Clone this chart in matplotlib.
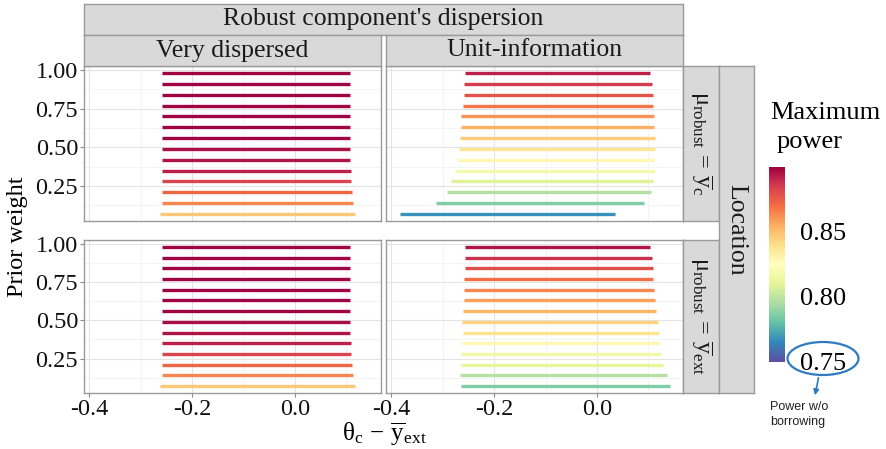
import matplotlib
matplotlib.use('Agg')
import matplotlib.pyplot as plt
from matplotlib import colors
from matplotlib.cm import ScalarMappable
from matplotlib.patches import Ellipse, FancyArrowPatch
from matplotlib.ticker import MultipleLocator

plt.rcParams['font.family'] = ['Liberation Serif', 'DejaVu Serif']
plt.rcParams['mathtext.fontset'] = 'custom'
plt.rcParams['mathtext.rm'] = 'Liberation Serif'
plt.rcParams['mathtext.it'] = 'Liberation Serif'
plt.rcParams['mathtext.bf'] = 'Liberation Serif:bold'

# ---------------- data ----------------
prior_weight = [0.98, 0.91, 0.84, 0.77, 0.70, 0.63, 0.56, 0.49, 0.42, 0.35, 0.28, 0.21, 0.14, 0.07]

# Very dispersed, mu_robust = ybar_c
vd_yc_start = [-0.258, -0.258, -0.258, -0.258, -0.258, -0.258, -0.258, -0.258, -0.258, -0.258, -0.258, -0.258, -0.259, -0.262]
vd_yc_end = [0.106, 0.106, 0.106, 0.106, 0.106, 0.106, 0.106, 0.107, 0.107, 0.108, 0.108, 0.111, 0.113, 0.117]
vd_yc_power = [0.899, 0.899, 0.899, 0.899, 0.899, 0.899, 0.899, 0.896, 0.895, 0.892, 0.883, 0.872, 0.864, 0.847]

# Unit-information, mu_robust = ybar_c
ui_yc_start = [-0.256, -0.258, -0.258, -0.261, -0.264, -0.265, -0.267, -0.269, -0.273, -0.277, -0.284, -0.292, -0.314, -0.384]
ui_yc_end = [0.104, 0.106, 0.108, 0.108, 0.110, 0.111, 0.112, 0.112, 0.111, 0.112, 0.109, 0.105, 0.091, 0.035]
ui_yc_power = [0.892, 0.885, 0.878, 0.868, 0.861, 0.854, 0.846, 0.837, 0.828, 0.818, 0.809, 0.797, 0.786, 0.767]

# Very dispersed, mu_robust = ybar_ext
vd_yext_start = [-0.258, -0.258, -0.258, -0.258, -0.258, -0.258, -0.258, -0.258, -0.258, -0.258, -0.258, -0.258, -0.259, -0.262]
vd_yext_end = [0.106, 0.106, 0.106, 0.106, 0.106, 0.106, 0.107, 0.107, 0.107, 0.108, 0.108, 0.111, 0.113, 0.117]
vd_yext_power = [0.899, 0.899, 0.899, 0.899, 0.899, 0.899, 0.899, 0.897, 0.895, 0.892, 0.883, 0.872, 0.864, 0.847]

# Unit-information, mu_robust = ybar_ext
ui_yext_start = [-0.256, -0.257, -0.257, -0.258, -0.259, -0.259, -0.260, -0.262, -0.261, -0.262, -0.264, -0.264, -0.266, -0.264]
ui_yext_end = [0.104, 0.106, 0.108, 0.109, 0.111, 0.113, 0.115, 0.118, 0.120, 0.122, 0.125, 0.129, 0.136, 0.141]
ui_yext_power = [0.895, 0.888, 0.880, 0.870, 0.864, 0.858, 0.852, 0.844, 0.838, 0.828, 0.816, 0.811, 0.798, 0.786]

col_labels = ['Very dispersed', 'Unit-information']
row_labels = [r'$\mu_{\mathrm{robust}}\,=\,\overline{\mathrm{y}}_{\mathrm{c}}$',
              r'$\mu_{\mathrm{robust}}\,=\,\overline{\mathrm{y}}_{\mathrm{ext}}$']
x_ticks = [-0.4, -0.2, 0.0]
x_ticklabels = ['-0.4', '-0.2', '0.0']
y_ticks = [0.25, 0.50, 0.75, 1.00]
y_ticklabels = ['0.25', '0.50', '0.75', '1.00']
cbar_ticks = [0.75, 0.80, 0.85]
cbar_ticklabels = ['0.75', '0.80', '0.85']
power_range = (0.75, 0.90)

# ---------------- figure ----------------
W, H = 886, 449
fig = plt.figure(figsize=(W / 100, H / 100), dpi=100)


def box(x0, y0, x1, y1):
    return [x0 / W, 1 - y1 / H, (x1 - x0) / W, (y1 - y0) / H]


cmap = plt.get_cmap('Spectral_r')
norm = colors.Normalize(vmin=power_range[0], vmax=power_range[1])

BORDER = '#9a9a9a'
STRIP_BG = '#d9d9d9'

panels = [
    [(vd_yc_start, vd_yc_end, vd_yc_power), (ui_yc_start, ui_yc_end, ui_yc_power)],
    [(vd_yext_start, vd_yext_end, vd_yext_power), (ui_yext_start, ui_yext_end, ui_yext_power)],
]
col_x = [(84, 381), (386, 683)]
row_y = [(66, 221), (240, 393)]

pad_x = 0.05 * (max(max(ui_yext_end), max(ui_yc_end)) - min(ui_yc_start))
xlim = (min(ui_yc_start) - pad_x, max(ui_yext_end) + pad_x)
pad_y = 0.05 * (max(prior_weight) - min(prior_weight))
ylim = (min(prior_weight) - pad_y, max(prior_weight) + pad_y)

for r in range(2):
    for c in range(2):
        x0, x1 = col_x[c]
        y0, y1 = row_y[r]
        ax = fig.add_axes(box(x0, y0, x1, y1))
        start, end, power = panels[r][c]
        lc = ax.hlines(prior_weight, start, end, colors=cmap(norm(power)), linewidth=2.4, zorder=3)
        lc.set_capstyle('butt')
        ax.set_xlim(xlim)
        ax.set_ylim(ylim)
        ax.set_xticks(x_ticks)
        ax.xaxis.set_minor_locator(MultipleLocator(0.1))
        ax.set_yticks(y_ticks)
        ax.yaxis.set_minor_locator(MultipleLocator(0.125))
        ax.grid(True, which='major', color='#e4e4e4', linewidth=0.8, zorder=0)
        ax.grid(True, which='minor', color='#f2f2f2', linewidth=0.6, zorder=0)
        ax.set_axisbelow(True)
        for s in ax.spines.values():
            s.set_color(BORDER)
            s.set_linewidth(1.0)
        ax.tick_params(which='minor', length=0)
        ax.tick_params(which='major', direction='out', length=2.8, width=0.8,
                       color='#8a8a8a', labelsize=17.5, pad=1.5, labelcolor='#111111')
        if c == 0:
            ax.set_yticklabels(y_ticklabels)
        else:
            ax.tick_params(axis='y', left=False, labelleft=False)
        if r == 1:
            ax.set_xticklabels(x_ticklabels)
        else:
            ax.tick_params(axis='x', bottom=False, labelbottom=False)


def strip(x0, y0, x1, y1, text, rotation=0, size=18.5):
    sa = fig.add_axes(box(x0, y0, x1, y1))
    sa.set_facecolor(STRIP_BG)
    sa.set_xticks([])
    sa.set_yticks([])
    for s in sa.spines.values():
        s.set_color(BORDER)
        s.set_linewidth(1.0)
    sa.text(0.5, 0.5, text, rotation=rotation, ha='center', va='center',
            fontsize=size, color='#1a1a1a', transform=sa.transAxes)
    return sa


strip(84, 4, 683, 35, "Robust component's dispersion")
strip(84, 35, 381, 66, col_labels[0])
strip(386, 35, 683, 66, col_labels[1])
strip(683, 66, 719, 221, row_labels[0], rotation=270, size=17.5)
strip(683, 240, 719, 393, row_labels[1], rotation=270, size=17.5)
strip(719, 66, 754, 393, 'Location', rotation=270)

# axis titles
fig.text(18 / W, 1 - 237 / H, 'Prior weight', rotation=90, ha='center', va='center', fontsize=17.5)
fig.text(384 / W, 1 - 434 / H, r'$\mathrm{\theta_c}\,-\,\overline{\mathrm{y}}_{\mathrm{ext}}$',
         ha='center', va='center', fontsize=18)

# colourbar
cax = fig.add_axes(box(769, 166.7, 785, 361.7))
cb = fig.colorbar(ScalarMappable(norm=norm, cmap=cmap), cax=cax)
cb.outline.set_visible(False)
cb.set_ticks(cbar_ticks)
cb.set_ticklabels(cbar_ticklabels)
cax.tick_params(length=0, labelsize=19, pad=11)
fig.text(770 / W, 1 - 113 / H, 'Maximum', ha='left', va='center', fontsize=19)
fig.text(777 / W, 1 - 142 / H, 'power', ha='left', va='center', fontsize=19)

# annotation overlay
ov = fig.add_axes([0, 0, 1, 1], zorder=10)
ov.set_xlim(0, W)
ov.set_ylim(H, 0)
ov.axis('off')
ov.patch.set_alpha(0)
ov.add_patch(Ellipse((823, 358.5), 71, 33, fill=False, edgecolor='#2f7ac0', linewidth=1.6))
ov.add_patch(FancyArrowPatch((819, 375), (814.5, 398), arrowstyle='-|>', mutation_scale=8,
                             color='#2f7ac0', linewidth=1.2))
ov.text(770, 407, 'Power w/o', fontsize=9, family=['Liberation Sans', 'DejaVu Sans'],
        ha='left', va='center', color='#222222')
ov.text(770, 422, 'borrowing', fontsize=9, family=['Liberation Sans', 'DejaVu Sans'],
        ha='left', va='center', color='#222222')

fig.savefig('out.png', dpi=100)
